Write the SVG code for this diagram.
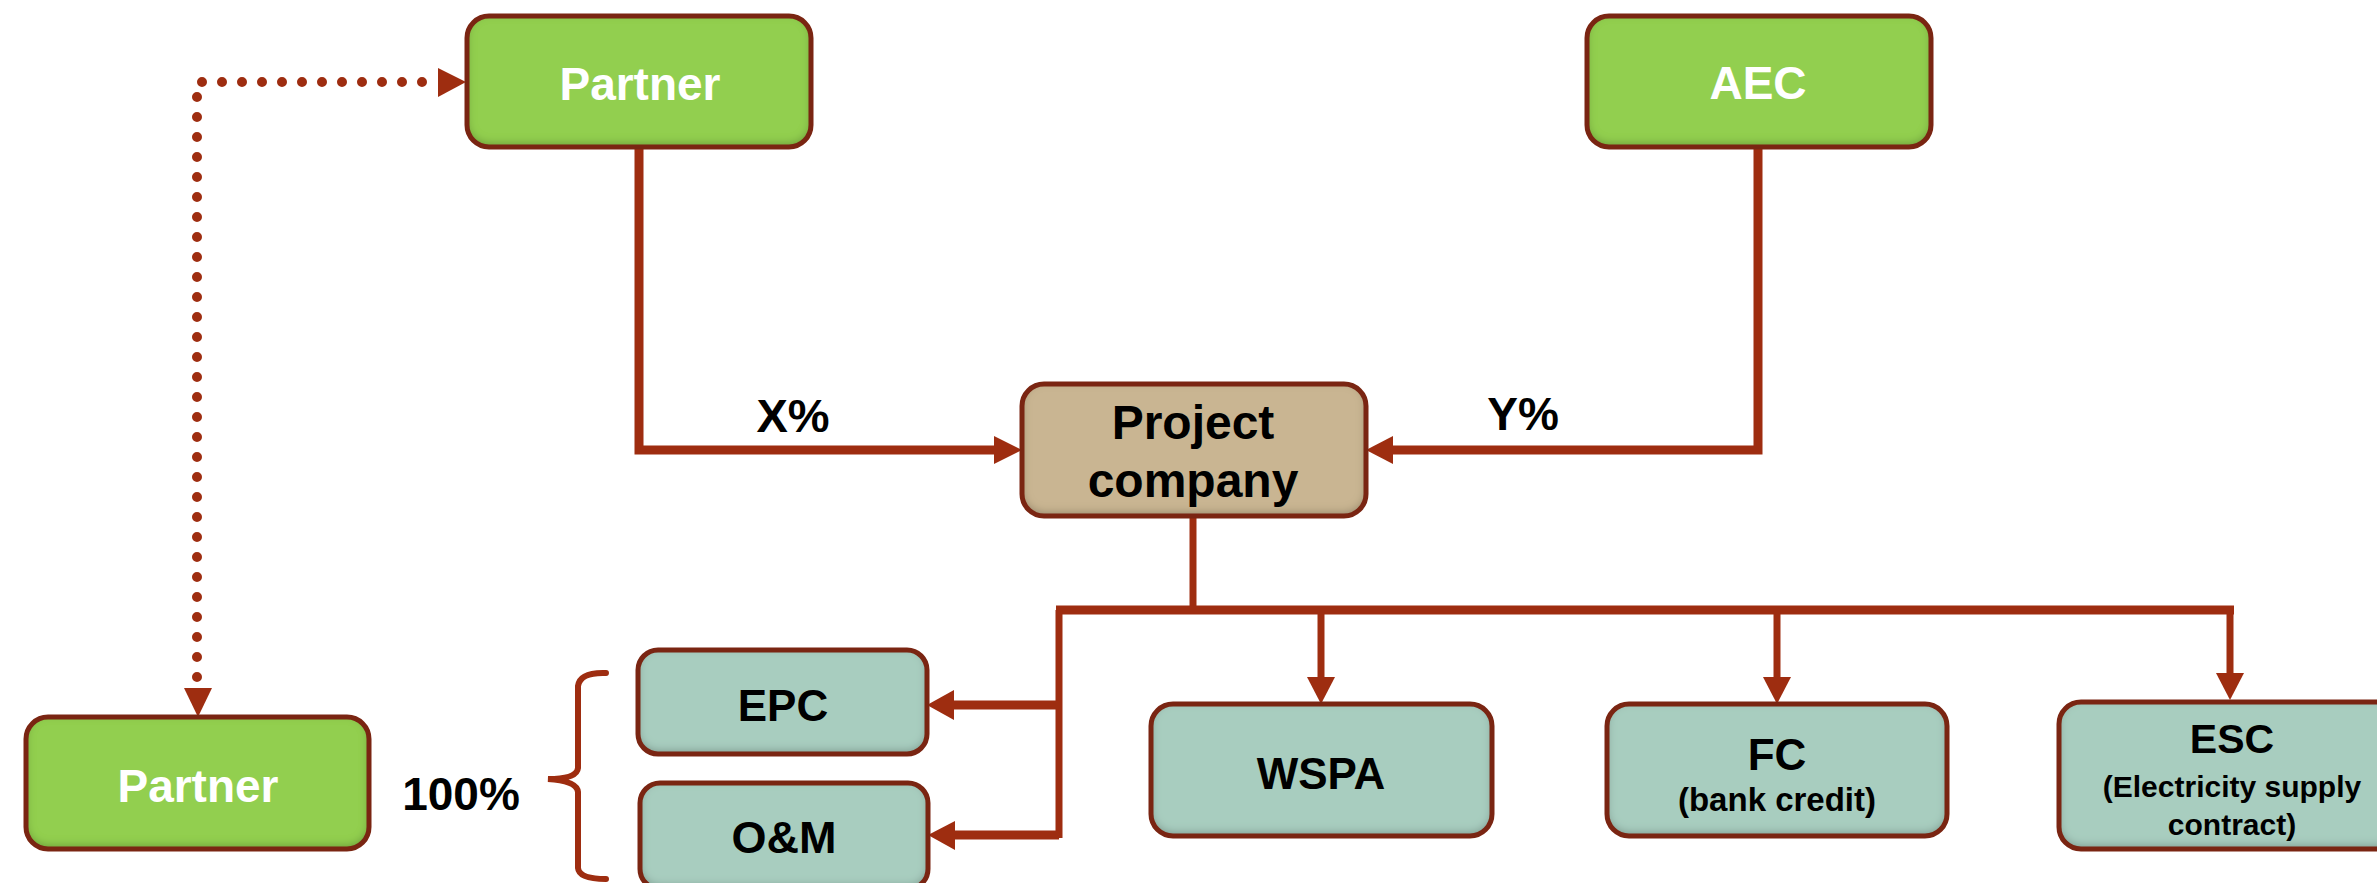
<svg xmlns="http://www.w3.org/2000/svg" width="2377" height="883" viewBox="0 0 2377 883">
<style>
.box{stroke:#7A2512;stroke-width:5;fill:none}
.g{fill:#92CF50}
.t{fill:#A8CDBF}
.p{fill:#C9B592}
.lbl{font-family:"Liberation Sans",Arial,sans-serif;font-weight:bold;text-anchor:middle;fill:#000}
.w{fill:#fff}
.c{fill:none;stroke:#9E2D10;stroke-width:9}
.c7{fill:none;stroke:#9E2D10;stroke-width:7}
.dot{fill:none;stroke:#9E2D10;stroke-width:10;stroke-linecap:round;stroke-dasharray:0 20}
.ah{fill:#9E2D10}
</style>
<defs>
<filter id="ish" x="-10%" y="-15%" width="120%" height="130%">
<feFlood flood-color="#000" flood-opacity="0.55" result="f"/>
<feComposite in="f" in2="SourceAlpha" operator="out" result="o"/>
<feGaussianBlur in="o" stdDeviation="5" result="b"/>
<feOffset in="b" dy="-3" result="off"/>
<feComposite in="off" in2="SourceAlpha" operator="in" result="in"/>
<feMerge><feMergeNode in="SourceGraphic"/><feMergeNode in="in"/></feMerge>
</filter>
</defs>
<rect width="2377" height="883" fill="#fff"/>

<g id="connectors">
<path class="dot" d="M202,82 H430"/>
<path class="dot" d="M197,97 V680"/>
<polygon class="ah" points="438,68 466,82 438,97"/>
<polygon class="ah" points="184,688 198,717 212,688"/>
<path class="c" d="M639,147 V450 H996"/>
<polygon class="ah" points="994,436 1022,450 994,464"/>
<path class="c" d="M1758,147 V450 H1391"/>
<polygon class="ah" points="1393,436 1366,450 1393,464"/>
<path class="c7" d="M1193,516 V610"/>
<path class="c" d="M1056,610 H2234"/>
<path class="c7" d="M1059,610 V838"/>
<path class="c" d="M1059,705 H952"/>
<polygon class="ah" points="954,690 927,705 954,720"/>
<path class="c" d="M1059,835 H953"/>
<polygon class="ah" points="955,821 928,835 955,850"/>
<path class="c7" d="M1321,610 V680"/>
<polygon class="ah" points="1307,677 1321,704 1335,677"/>
<path class="c7" d="M1777,610 V680"/>
<polygon class="ah" points="1763,677 1777,704 1791,677"/>
<path class="c7" d="M2230,610 V676"/>
<polygon class="ah" points="2216,673 2230,700 2244,673"/>
<path fill="none" stroke="#9E2D10" stroke-width="6" stroke-linecap="round" d="M606,673 Q580,672 578,686 V768 Q577,779 548,779 Q577,781 578,792 V868 Q579,879 606,879"/>
</g>

<g id="partner-top">
<rect class="g" filter="url(#ish)" x="467" y="16" width="344" height="131" rx="22"/>
<rect class="box" x="467" y="16" width="344" height="131" rx="22"/>
<text class="lbl w" x="640" y="100" font-size="46">Partner</text>
</g>
<g id="aec">
<rect class="g" filter="url(#ish)" x="1587" y="16" width="344" height="131" rx="22"/>
<rect class="box" x="1587" y="16" width="344" height="131" rx="22"/>
<text class="lbl w" x="1758" y="99" font-size="46">AEC</text>
</g>
<g id="partner-bottom">
<rect class="g" filter="url(#ish)" x="26" y="717" width="343" height="132" rx="22"/>
<rect class="box" x="26" y="717" width="343" height="132" rx="22"/>
<text class="lbl w" x="198" y="802" font-size="46">Partner</text>
</g>
<g id="project-company">
<rect class="p" filter="url(#ish)" x="1022" y="384" width="344" height="132" rx="22"/>
<rect class="box" x="1022" y="384" width="344" height="132" rx="22"/>
<text class="lbl" x="1193" y="439" font-size="48">Project</text>
<text class="lbl" x="1193" y="497" font-size="48">company</text>
</g>
<g id="x-label"><text class="lbl" x="793" y="432" font-size="47">X%</text></g>
<g id="y-label"><text class="lbl" x="1523" y="430" font-size="46">Y%</text></g>
<g id="pct-label"><text class="lbl" x="461" y="810" font-size="46">100%</text></g>
<g id="epc">
<rect class="t" filter="url(#ish)" x="638" y="650" width="289" height="104" rx="20"/>
<rect class="box" x="638" y="650" width="289" height="104" rx="20"/>
<text class="lbl" x="783" y="721" font-size="44">EPC</text>
</g>
<g id="om">
<rect class="t" filter="url(#ish)" x="640" y="783" width="288" height="106" rx="20"/>
<rect class="box" x="640" y="783" width="288" height="106" rx="20"/>
<text class="lbl" x="784" y="853" font-size="45">O&amp;M</text>
</g>
<g id="wspa">
<rect class="t" filter="url(#ish)" x="1151" y="704" width="341" height="132" rx="22"/>
<rect class="box" x="1151" y="704" width="341" height="132" rx="22"/>
<text class="lbl" x="1321" y="789" font-size="44">WSPA</text>
</g>
<g id="fc">
<rect class="t" filter="url(#ish)" x="1607" y="704" width="340" height="132" rx="22"/>
<rect class="box" x="1607" y="704" width="340" height="132" rx="22"/>
<text class="lbl" x="1777" y="770" font-size="44">FC</text>
<text class="lbl" x="1777" y="811" font-size="33">(bank credit)</text>
</g>
<g id="esc">
<rect class="t" filter="url(#ish)" x="2059" y="702" width="346" height="147" rx="22"/>
<rect class="box" x="2059" y="702" width="346" height="147" rx="22"/>
<text class="lbl" x="2232" y="753" font-size="41">ESC</text>
<text class="lbl" x="2232" y="797" font-size="30">(Electricity supply</text>
<text class="lbl" x="2232" y="835" font-size="30">contract)</text>
</g>
</svg>
